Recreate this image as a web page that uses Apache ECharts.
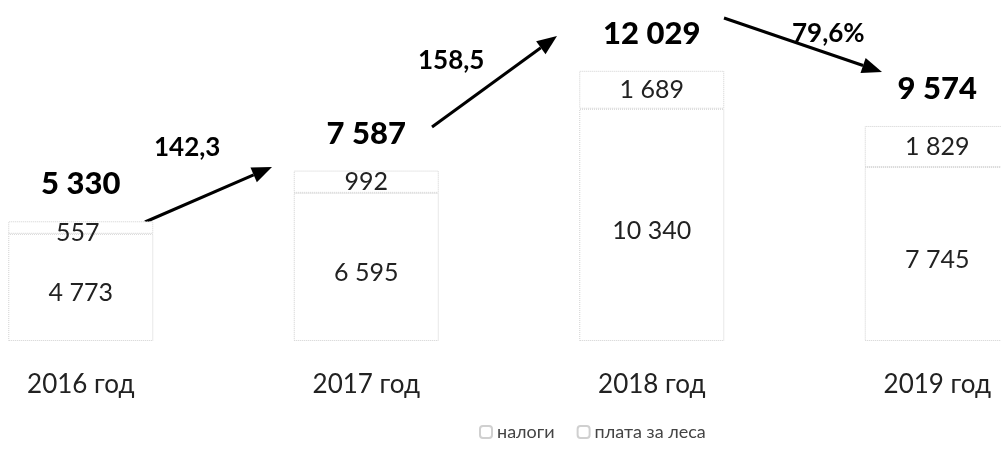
<!DOCTYPE html>
<html>
<head>
<meta charset="utf-8">
<script src="https://cdn.jsdelivr.net/npm/echarts@6/dist/echarts.min.js"></script>
<style>
html,body{margin:0;padding:0;background:#fff;}
#chart{width:1001px;height:450px;}
</style>
</head>
<body>
<div id="chart"></div>
<script>
// data
var years = ['2016 год', '2017 год', '2018 год', '2019 год'];
var taxes = [4773, 6595, 10340, 7745];
var forestFee = [557, 992, 1689, 1829];
var totals = [5330, 7587, 12029, 9574];
var growth = ['142,3', '158,5', '79,6%'];

var FONT = 'Lato';

function fmt(v) {
    return String(v).replace(/\B(?=(\d{3})+(?!\d))/g, ' ');
}

// arrow = line + head, drawn as annotation
function arrow(x1, y1, x2, y2) {
    var a = Math.atan2(y2 - y1, x2 - x1);
    var len = 20, half = 8;
    var bx = x2 - len * Math.cos(a), by = y2 - len * Math.sin(a);
    var px = -Math.sin(a) * half, py = Math.cos(a) * half;
    return [
        {type: 'line', shape: {x1: x1, y1: y1, x2: bx, y2: by}, style: {stroke: '#000', lineWidth: 3}},
        {type: 'polygon', shape: {points: [[x2, y2], [bx + px, by + py], [bx - px, by - py]]}, style: {fill: '#000'}}
    ];
}

var chart = echarts.init(document.getElementById('chart'));

var barStyle = {
    color: '#ffffff',
    borderColor: '#d0d0d0',
    borderWidth: 1,
    borderType: 'dotted'
};

var graphics = []
    .concat(arrow(145, 222, 272, 167))
    .concat(arrow(432, 127, 557, 36))
    .concat(arrow(724, 18, 882, 72));
graphics.push(
    {type: 'text', left: 154, top: 135, style: {text: growth[0], font: 'bold 26px ' + FONT, fill: '#000'}},
    {type: 'text', left: 418, top: 48, style: {text: growth[1], font: 'bold 26px ' + FONT, fill: '#000'}},
    {type: 'text', left: 792, top: 21, style: {text: growth[2], font: 'bold 26px ' + FONT, fill: '#000'}}
);

var option = {
    backgroundColor: '#ffffff',
    animation: false,
    grid: {left: -62, right: -79, top: 49, bottom: 109, outerBoundsMode: 'none', containLabel: false},
    legend: {
        data: ['налоги', 'плата за леса'],
        bottom: 4,
        left: 474,
        itemWidth: 12,
        itemHeight: 12,
        itemGap: 22,
        textStyle: {fontFamily: FONT, fontSize: 18, color: '#444'}
    },
    xAxis: {
        type: 'category',
        data: years,
        axisLine: {show: false},
        axisTick: {show: false},
        axisLabel: {margin: 31, fontFamily: FONT, fontSize: 26, color: '#222'}
    },
    yAxis: {
        type: 'value',
        min: 0,
        max: 13000,
        show: false,
        splitLine: {show: false}
    },
    series: [
        {
            name: 'налоги',
            type: 'bar',
            stack: 'total',
            barWidth: 145,
            itemStyle: barStyle,
            label: {
                show: true,
                position: 'inside',
                offset: [0, 6],
                fontFamily: FONT,
                fontSize: 25,
                color: '#222',
                formatter: function (p) { return fmt(p.value); }
            },
            data: taxes
        },
        {
            name: 'плата за леса',
            type: 'bar',
            stack: 'total',
            barWidth: 145,
            itemStyle: barStyle,
            label: {
                show: true,
                position: 'inside',
                fontFamily: FONT,
                fontSize: 25,
                color: '#222',
                formatter: function (p) { return fmt(p.value); }
            },
            data: forestFee.map(function (v, i) {
                // small first segment: label sits a bit lower on the scan
                return i === 0 ? {value: v, label: {offset: [-3, 5]}} : v;
            })
        },
        {
            name: 'итого',
            type: 'scatter',
            symbolSize: 1,
            itemStyle: {color: '#ffffff', opacity: 1},
            label: {
                show: true,
                position: 'top',
                distance: 21,
                fontFamily: FONT,
                fontWeight: 900,
                fontSize: 31,
                color: '#000',
                formatter: function (p) { return fmt(p.value); }
            },
            data: totals
        }
    ],
    graphic: graphics
};

chart.setOption(option);
</script>
</body>
</html>
